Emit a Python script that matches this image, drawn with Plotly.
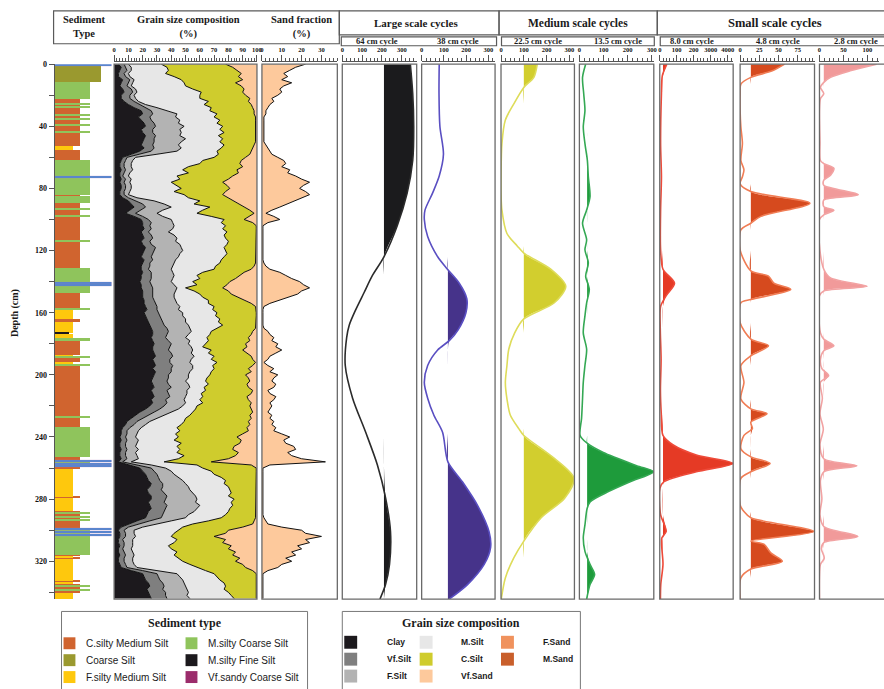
import numpy as np
import plotly.graph_objects as go

W, H = 884, 689
SERIF = "Liberation Serif, Times New Roman, DejaVu Serif, serif"
SANS = "Liberation Sans, Arial, DejaVu Sans, sans-serif"


def px_x(v):
    return v / W


def px_y(v):
    return 1 - v / H


# ---------------- sediment log ----------------
sediment_types = ["C.silty Medium Silt", "Coarse Silt", "F.silty Medium Silt",
                  "M.silty Coarse Silt", "M.silty Fine Silt", "Vf.sandy Coarse Silt"]
sediment_codes = ["CM", "CS", "FM", "MC", "MF", "VC"]
sediment_colors = ["#d0642f", "#9a992f", "#fec80d", "#8fc45c", "#1c191d", "#9b2c6b"]

layer_top = [0.6, 11.7, 22.4, 25.2, 26.0, 27.3, 28.1, 32.6, 33.4, 34.8, 35.6, 39.2, 40.0, 43.3,
             44.1, 53.0, 55.2, 62.0, 84.0, 85.2, 89.6, 93.0, 94.0, 97.6, 98.6, 113.6, 114.5,
             131.2, 147.4, 157.6, 158.5, 164.0, 166.0, 173.0, 173.8, 177.0, 178.0, 187.5, 188.2,
             189.0, 191.5, 193.5, 194.3, 226.8, 227.6, 233.6, 253.0, 255.0, 259.5, 261.0, 278.6,
             279.6, 288.0, 289.0, 289.8, 291.0, 291.8, 293.0, 293.8, 298.5, 316.0, 317.0, 317.8,
             318.8, 332.5, 333.5, 335.0, 336.0, 336.8, 338.0, 338.8, 340.5]
layer_bottom = [11.7, 22.4, 25.2, 26.0, 27.3, 28.1, 32.6, 33.4, 34.8, 35.6, 39.2, 40.0, 43.3, 44.1,
                53.0, 55.2, 62.0, 84.0, 85.2, 89.6, 93.0, 94.0, 97.6, 98.6, 113.6, 114.5, 131.2,
                147.4, 157.6, 158.5, 164.0, 166.0, 173.0, 173.8, 177.0, 178.0, 187.5, 188.2, 189.0,
                191.5, 193.5, 194.3, 226.8, 227.6, 233.6, 253.0, 255.0, 259.5, 261.0, 278.6, 279.6,
                288.0, 289.0, 289.8, 291.0, 291.8, 293.0, 293.8, 298.5, 316.0, 317.0, 317.8, 318.8,
                332.5, 333.5, 335.0, 336.0, 336.8, 338.0, 338.8, 340.5, 344.3]
layer_code = ["CS", "MC", "CM", "MC", "CM", "MC", "CM", "MC", "CM", "MC", "CM", "MC", "CM", "MC",
              "CM", "FM", "CM", "MC", "CM", "MC", "CM", "MC", "CM", "MC", "CM", "MC", "CM",
              "MC", "CM", "MC", "FM", "CM", "FM", "MF", "FM", "MC", "CM", "FM", "MC",
              "CM", "FM", "MC", "CM", "MC", "CM", "MC", "CM", "MC", "CM", "FM", "CM",
              "FM", "CM", "MC", "CM", "MC", "CM", "MC", "CM", "MC", "CM", "FM", "CM",
              "FM", "CM", "FM", "CM", "MC", "CM", "MC", "CM", "FM"]
horizon_depth = [0.5, 73.0, 141.0, 142.3, 255.6, 257.2, 258.8, 299.4, 301.4, 303.4]

# ---------------- grain size composition (cumulative %, upper bound of each class) ----------------
grain_classes = ["Clay", "Vf.Silt", "F.Silt", "M.Silt", "C.Silt", "Vf.Sand", "F.Sand", "M.Sand"]
grain_colors = ["#1c191d", "#7f7f7f", "#b3b3b3", "#e7e7e7", "#cfcc2d", "#fdc99c", "#f0925d", "#c95f2b"]

depth = list(range(0, 345, 2))
clay_top = [3, 5, 4, 3, 3, 6, 5, 4, 6, 7,
            5, 5, 7, 10, 14, 19, 20, 17, 19, 21,
            22, 19, 20, 22, 21, 20, 19, 21, 18, 12,
            6, 5, 4, 4, 5, 4, 4, 5, 4, 5,
            5, 4, 4, 6, 10, 12, 14, 11, 8, 14,
            19, 20, 20, 21, 19, 20, 21, 19, 20, 22,
            21, 20, 19, 21, 20, 19, 19, 20, 19, 19,
            18, 19, 19, 20, 20, 20, 21, 21, 22, 23,
            21, 22, 23, 24, 25, 26, 27, 27, 26, 27,
            28, 27, 27, 28, 29, 27, 28, 29, 27, 29,
            28, 27, 26, 27, 28, 26, 27, 28, 26, 27,
            25, 22, 18, 15, 12, 9, 8, 6, 5, 5,
            4, 5, 4, 4, 5, 4, 4, 5, 3, 10,
            18, 20, 22, 23, 24, 26, 25, 23, 24, 26,
            26, 24, 25, 26, 24, 23, 22, 16, 10, 5,
            3, 4, 4, 3, 3, 4, 3, 3, 4, 3,
            3, 4, 5, 12, 20, 21, 22, 24, 25, 23,
            24, 25, 26]
vf_silt_top = [7, 8, 9, 7, 8, 11, 10, 9, 12, 13,
               11, 11, 14, 18, 22, 26, 27, 25, 26, 28,
               29, 27, 27, 29, 28, 28, 27, 28, 26, 18,
               9, 8, 7, 7, 8, 7, 6, 8, 7, 8,
               8, 7, 7, 10, 15, 20, 22, 18, 15, 20,
               24, 26, 25, 26, 24, 26, 27, 25, 26, 29,
               28, 27, 26, 27, 25, 25, 24, 26, 26, 26,
               25, 26, 27, 27, 27, 27, 28, 29, 30, 30,
               31, 32, 33, 34, 35, 37, 38, 37, 36, 38,
               40, 39, 38, 40, 41, 39, 39, 41, 40, 40,
               38, 38, 37, 38, 40, 37, 38, 39, 36, 37,
               35, 32, 28, 24, 20, 16, 14, 11, 9, 9,
               8, 9, 8, 8, 9, 8, 8, 9, 6, 16,
               26, 28, 30, 31, 32, 34, 34, 33, 35, 37,
               36, 35, 37, 36, 35, 34, 33, 25, 18, 10,
               7, 8, 8, 6, 7, 7, 6, 7, 8, 7,
               7, 8, 9, 20, 30, 31, 32, 34, 35, 34,
               36, 36, 37]
f_silt_top = [10, 12, 12, 10, 11, 14, 13, 12, 15, 16,
              14, 15, 17, 22, 30, 38, 44, 43, 46, 45,
              49, 46, 47, 46, 50, 47, 45, 47, 44, 30,
              15, 13, 12, 12, 13, 11, 10, 12, 11, 12,
              12, 11, 10, 16, 28, 35, 40, 34, 30, 34,
              40, 41, 42, 41, 38, 42, 44, 43, 46, 47,
              48, 46, 45, 43, 42, 41, 40, 41, 42, 41,
              40, 42, 44, 43, 42, 42, 43, 44, 46, 45,
              48, 48, 50, 50, 52, 53, 54, 52, 50, 53,
              52, 54, 55, 54, 56, 54, 53, 55, 55, 53,
              52, 52, 50, 52, 53, 51, 51, 50, 49, 50,
              48, 45, 40, 35, 30, 25, 22, 19, 17, 16,
              15, 17, 16, 15, 17, 15, 16, 17, 12, 26,
              36, 40, 42, 45, 48, 50, 52, 53, 55, 57,
              58, 57, 60, 58, 56, 52, 50, 40, 30, 20,
              14, 14, 15, 13, 13, 13, 12, 13, 14, 13,
              13, 14, 16, 30, 44, 46, 48, 49, 50, 51,
              52, 51, 53]
m_silt_top = [33, 37, 38, 36, 42, 47, 49, 50, 55, 61,
              60, 60, 66, 63, 68, 67, 72, 70, 74, 72,
              76, 74, 77, 73, 76, 74, 77, 75, 72, 73,
              70, 62, 60, 52, 48, 52, 44, 46, 40, 44,
              47, 42, 49, 52, 60, 56, 67, 62, 58, 68,
              77, 75, 78, 76, 79, 77, 78, 80, 79, 77,
              78, 79, 77, 75, 74, 71, 70, 62, 58, 60,
              55, 58, 50, 56, 60, 62, 66, 66, 70, 69,
              72, 71, 74, 73, 76, 72, 68, 67, 65, 66,
              64, 62, 68, 66, 70, 68, 72, 69, 70, 68,
              67, 65, 64, 66, 63, 64, 61, 62, 60, 62,
              58, 57, 55, 53, 50, 49, 47, 44, 46, 43,
              45, 42, 47, 44, 46, 44, 49, 45, 35, 58,
              62, 68, 70, 75, 78, 77, 80, 81, 82, 80,
              84, 82, 83, 81, 80, 78, 75, 66, 55, 48,
              45, 42, 40, 44, 42, 38, 40, 44, 42, 45,
              48, 53, 58, 64, 70, 72, 74, 77, 78, 77,
              80, 82, 84]
# sand fraction (%), also the Vf.Sand share of the composition
sand = [22, 17, 14, 11, 13, 10, 15, 11, 9, 10,
        8, 5, 6, 4, 3, 2, 2, 1, 1, 1,
        1, 1, 1, 1, 1, 1, 2, 3, 4, 5,
        8, 11, 12, 10, 14, 13, 17, 20, 24, 21,
        19, 22, 24, 20, 17, 13, 9, 5, 2, 6,
        9, 3, 0.5, 0.5, 0.5, 0.5, 0.5, 0.5, 0.5, 0.5,
        0.5, 0.5, 0.5, 0.5, 1, 2, 4, 9, 12, 15,
        19, 21, 24, 20, 18, 13, 8, 4, 1, 0.5,
        0.5, 0.5, 0.5, 0.5, 0.5, 1, 3, 4, 6, 5,
        8, 7, 10, 7, 4, 3, 1, 3, 6, 4,
        8, 6, 5, 7, 6, 3, 4, 7, 6, 4,
        5, 4, 3, 5, 4, 6, 5, 7, 6, 10,
        14, 11, 12, 16, 17, 13, 15, 20, 32, 4,
        0.5, 0.5, 0.5, 0.5, 0.5, 0.5, 0.5, 0.5, 0.5, 0.5,
        0.5, 0.5, 0.5, 0.5, 0.5, 0.5, 1, 2, 3, 10,
        20, 22, 30, 22, 24, 18, 20, 15, 17, 12,
        15, 10, 8, 3, 0.5, 0.5, 0.5, 0.5, 0.5, 0.5,
        0.5, 0.5, 0.5]

# ---------------- spectral cycles ----------------
c64_depth = [0, 19, 40, 62, 83, 104, 124, 136, 147, 158, 168, 176, 194, 215, 237, 258, 279, 301,
             322, 335, 344.3]
c64_value = [343, 355, 360, 355, 327, 277, 210, 152, 110, 68, 35, 22, 15, 52, 118, 177, 218, 243,
             238, 218, 190]

c38_depth = [0, 19, 40, 58, 72, 83, 94, 100, 111, 124, 132, 141, 151, 160, 171, 178, 184, 194,
             205, 215, 226, 237, 256, 269, 284, 301, 311, 322, 335, 344.3]
c38_value = [79, 78, 82, 98, 79, 49, 15, 12, 27, 72, 116, 169, 203, 199, 164, 124, 72, 27,
             12, 27, 55, 94, 118, 184, 251, 303, 310, 281, 206, 124]

c22_depth = [0, 8.5, 15, 25.6, 36, 51, 72, 83, 94, 109, 117, 121.6, 132, 143, 153.6, 164, 173,
             183.5, 194, 205, 215.5, 226, 234.6, 239, 253.8, 266.6, 279.5, 292, 307, 317.8,
             330.7, 344.3]
c22_value = [159, 144, 100, 56, 19, 4, 0, 0, 4, 26, 71, 100, 218, 284, 234, 100, 60,
             34, 26, 19, 26, 41, 78, 100, 234, 320, 279, 176, 100, 56, 19, 1]

c13_depth = [0, 8.5, 19.2, 29.9, 40.5, 51.2, 61.9, 72.5, 85.3, 93.9, 102.4, 113, 119.5, 128,
             136.5, 145, 153.6, 162, 173, 183.5, 194, 205, 215.5, 228, 239, 244, 250, 258.5,
             262.4, 268.8, 275, 281.6, 286, 296.6, 305, 313.6, 322, 328.5, 335, 344.3]
c13_value = [26, 13, 18, 23, 16, 23, 33, 37, 44, 30, 13, 30, 23, 37, 26, 41, 30, 23, 16, 30,
             23, 16, 13, 9, 3, 32, 99, 237, 307, 210, 122, 45, 32, 23, 16, 23, 44, 63, 44, 30]

c8_depth = [0, 7.5, 19, 51, 72.5, 94, 119.5, 132, 141, 149, 156, 170, 190, 210, 225, 239, 245,
            251.6, 257, 262.4, 268.8, 273, 290, 300.8, 305, 322, 335, 344.3]
c8_value = [42, 15, 10, 5, 10, 5, 5, 19, 87, 38, 5, 3, 8, 4, 9, 19, 77,
            215, 430, 215, 25, 1, 5, 38, 12, 19, 6, 4]

c48_depth = [0, 4.3, 8.5, 12.8, 19, 30, 40.5, 51, 62, 68, 72.5, 77, 82, 89.6, 98, 102.4, 106.7,
             119.5, 133, 136.5, 141, 145, 151.5, 153.6, 166.4, 177, 181.3, 187.7, 194, 204.8,
             215.5, 221.9, 225, 230.4, 234.6, 239, 247.5, 252.8, 257, 262.4, 266.6, 283.7, 288,
             292, 300.8, 307, 309, 314.6, 320, 325, 330.7, 344.3]
c48_value = [58, 42, 14, 1, 0, 0, 1, 3, 1, 5, 3, 0, 14, 91, 27, 14, 1,
             0, 14, 37, 44, 66, 14, 1, 0, 14, 37, 14, 1, 5,
             1, 14, 35, 14, 16, 5, 1, 14, 39, 14, 1, 0, 5,
             14, 96, 14, 31, 40, 55, 14, 1, 0]

c28_depth = [0, 4.3, 8.5, 11.7, 14.9, 19, 22.2, 30, 50, 62, 64, 67, 71.5, 74.7, 78, 84, 87.5,
             91.7, 94, 97, 100, 120, 132, 137.6, 143, 146, 149, 173, 177, 181.3, 184.5, 190,
             196, 200.5, 204.8, 215, 225, 235, 245, 254, 258.5, 262.4, 268, 280, 290, 297.6,
             304, 308, 312, 318, 322, 330, 344.3]
c28_value = [119, 64, 23, 9, 2, 9, 2, 0, 1, 2, 9, 30, 23, 9, 9, 81, 9,
             9, 30, 9, 0, 1, 9, 23, 99, 9, 0, 2, 9, 30, 9, 2,
             5, 19, 2, 6, 1, 8, 1, 9, 78, 9, 2, 5, 1, 9,
             80, 9, 4, 10, 2, 0, 0]

# ---------------- figure ----------------
fig = go.Figure()

# sediment log bars
code_to_name = dict(zip(sediment_codes, sediment_types))
log_width = {"CM": 25, "CS": 46, "FM": 18, "MC": 35, "MF": 14, "VC": 57}
for code, color in zip(sediment_codes, sediment_colors):
    idx = [i for i, c in enumerate(layer_code) if c == code]
    if not idx:
        continue
    fig.add_trace(go.Bar(
        orientation="h", xaxis="x", yaxis="y", base=0,
        y=[(layer_top[i] + layer_bottom[i]) / 2 for i in idx],
        width=[layer_bottom[i] - layer_top[i] for i in idx],
        x=[log_width[code]] * len(idx),
        marker=dict(color=color, line=dict(width=0)),
        name=code_to_name[code], showlegend=False, hoverinfo="skip"))

# marker horizons across the log
fig.add_trace(go.Bar(
    orientation="h", xaxis="x", yaxis="y", base=0,
    y=horizon_depth, width=[1.2] * len(horizon_depth), x=[log_width["VC"]] * len(horizon_depth),
    marker=dict(color="#4f86d0", line=dict(color="#b37cc0", width=0.25)),
    showlegend=False, hoverinfo="skip"))

# stacked grain-size composition, one band per class between consecutive bounds
bounds = [np.array(b, dtype=float) for b in
          (clay_top, vf_silt_top, f_silt_top, m_silt_top)]
bounds.append(100.0 - np.array(sand, dtype=float))
bounds.append(np.full(len(depth), 100.0))
lower = np.zeros(len(depth))
for name, upper, color in zip(grain_classes[:6], bounds, grain_colors[:6]):
    fig.add_trace(go.Scatter(
        x=upper - lower, y=depth, xaxis="x2", yaxis="y", stackgroup="grain", orientation="h",
        mode="lines", fillcolor=color,
        line=dict(color="#111111", width=0 if name == "Vf.Sand" else 1),
        name=name, showlegend=False, hoverinfo="skip"))
    lower = upper

# sand fraction
fig.add_trace(go.Scatter(
    x=sand, y=depth, xaxis="x3", yaxis="y", mode="lines", fill="tozerox",
    fillcolor="#fdc99c", line=dict(color="#111111", width=1), showlegend=False, hoverinfo="skip"))

cycles = [
    dict(axis="x4", d=c64_depth, v=c64_value, base=210, fill="#1b1b1d", line="#2b2b2b"),
    dict(axis="x5", d=c38_depth, v=c38_value, base=118, fill="#46338a", line="#5a4fc2"),
    dict(axis="x6", d=c22_depth, v=c22_value, base=100, fill="#d2ce2e", line="#dedc5a"),
    dict(axis="x7", d=c13_depth, v=c13_value, base=32, fill="#1e9b3b", line="#34a853"),
    dict(axis="x8", d=c8_depth, v=c8_value, base=19, fill="#e53a25", line="#ee4b3a"),
    dict(axis="x9", d=c48_depth, v=c48_value, base=14, fill="#d64a1e", line="#f07d55"),
    dict(axis="x10", d=c28_depth, v=c28_value, base=9, fill="#f19a9a", line="#f2a3a3"),
]
for cy in cycles:
    n = len(cy["d"])
    fig.add_trace(go.Scatter(
        x=[cy["base"]] * n, y=cy["d"], xaxis=cy["axis"], yaxis="y", mode="lines",
        line=dict(width=0), showlegend=False, hoverinfo="skip"))
    fig.add_trace(go.Scatter(
        x=np.maximum(np.array(cy["v"], dtype=float), cy["base"]), y=cy["d"],
        xaxis=cy["axis"], yaxis="y", mode="lines", fill="tonextx", fillcolor=cy["fill"],
        line=dict(width=0, shape="spline", smoothing=0.8), showlegend=False, hoverinfo="skip"))
    fig.add_trace(go.Scatter(
        x=cy["v"], y=cy["d"], xaxis=cy["axis"], yaxis="y", mode="lines",
        line=dict(color=cy["line"], width=1.6, shape="spline", smoothing=0.8),
        showlegend=False, hoverinfo="skip"))

# ---------------- axes ----------------
PANEL_TOP, PANEL_BOTTOM = 60.5, 598.5
RULER_Y = 57


def ruler_axis(left, right, rng, majors, minors, labels=None):
    return dict(
        domain=[px_x(left), px_x(right)], range=rng, side="top", anchor="free",
        position=px_y(RULER_Y), showline=True, linecolor="#555555", linewidth=1,
        ticks="outside", ticklen=6, tickwidth=1, tickcolor="#555555",
        tickmode="array", tickvals=majors, ticktext=labels or [str(v) for v in majors],
        minor=dict(tickmode="array", tickvals=minors, ticks="outside", ticklen=3,
                   tickcolor="#555555", tickwidth=0.8),
        tickfont=dict(family=SERIF, size=6.5, color="#111111", weight="bold"),
        ticklabelstandoff=0, showgrid=False, zeroline=False, fixedrange=True)


panel_px = {
    "x2": (113, 257), "x3": (262, 338), "x4": (343, 418), "x5": (423, 497),
    "x6": (503, 577), "x7": (582, 657), "x8": (663, 737), "x9": (744, 819), "x10": (824, 884),
}

layout_axes = dict(
    xaxis=dict(domain=[px_x(53), px_x(112)], range=[0, 59], visible=False, fixedrange=True),
    yaxis=dict(domain=[px_y(PANEL_BOTTOM), px_y(PANEL_TOP)], range=[344.3, 0], anchor="x",
               showline=True, linecolor="#555555", linewidth=1, ticks="outside", ticklen=5,
               tickcolor="#555555", tickmode="array", tickvals=list(range(0, 321, 40)),
               minor=dict(tickmode="array", tickvals=list(range(20, 341, 40)), ticks="outside",
                          ticklen=5, tickcolor="#555555"),
               tickfont=dict(family=SERIF, size=8, color="#111111", weight="bold"),
               showgrid=False, zeroline=False, fixedrange=True),
    xaxis2=ruler_axis(113, 257, [0, 100], list(range(0, 101, 10)), list(range(0, 101, 2))),
    xaxis3=ruler_axis(262, 338, [0, 38], [0, 10, 20, 30], list(range(0, 39, 2))),
    xaxis4=ruler_axis(343, 418, [0, 375], [0, 100, 200, 300], list(range(0, 376, 20))),
    xaxis5=ruler_axis(423, 497, [0, 330], [0, 100, 200, 300], list(range(0, 331, 20))),
    xaxis6=ruler_axis(503, 577, [0, 322], [0, 100, 200, 300], list(range(0, 322, 20))),
    xaxis7=ruler_axis(582, 657, [0, 308], [0, 100, 200, 300], list(range(0, 309, 20))),
    xaxis8=ruler_axis(663, 737, [0, 432], [0, 100, 200, 300, 400], list(range(0, 433, 20)),
                      labels=["0", "100", "200", "3000", "4000"]),
    xaxis9=ruler_axis(744, 819, [0, 97], [0, 25, 50, 75], list(range(0, 98, 5))),
    xaxis10=ruler_axis(824, 884, [0, 124], [0, 50, 100], list(range(0, 125, 10))),
)

shapes = []
BORDER = dict(color="#6a6a6a", width=1.3)
for ax, (l, r) in panel_px.items():
    r_draw = 900 if ax == "x10" else r
    shapes.append(dict(type="rect", xref="paper", yref="paper", x0=px_x(l), x1=px_x(r_draw),
                       y0=px_y(PANEL_BOTTOM), y1=px_y(PANEL_TOP), line=BORDER,
                       fillcolor="rgba(0,0,0,0)", layer="above"))

HEAD = dict(color="#5a5a5a", width=1.2)


def box(x0, y0, x1, y1, line=HEAD):
    shapes.append(dict(type="rect", xref="paper", yref="paper", x0=px_x(x0), x1=px_x(x1),
                       y0=px_y(y1), y1=px_y(y0), line=line, fillcolor="rgba(0,0,0,0)"))


box(52, 7, 340, 40)
box(340, 7, 501, 31)
box(501, 7, 660.5, 31)
box(660.5, 7, 900, 31)
box(342, 33, 498.5, 42)
box(503.5, 33, 657.5, 42)
box(663.5, 33, 900, 42)

annotations = []


def label(text, x, y, size, family=SERIF, bold=True, anchor="center", angle=0, color="#1a1a1a"):
    annotations.append(dict(
        text="<b>%s</b>" % text if bold else text, x=px_x(x), y=px_y(y),
        xref="paper", yref="paper", showarrow=False,
        xanchor=anchor, yanchor="middle", textangle=angle,
        font=dict(family=family, size=size, color=color)))


label("Sediment<br>Type", 83, 23, 10.5)
label("Grain size composition<br>(%)", 188, 23, 10.5)
label("Sand fraction<br>(%)", 302, 23, 10.5)
label("Large scale cycles", 417, 19.5, 11)
label("Medium scale cycles", 581, 19.5, 11.5)
label("Small scale cycles", 779, 19.5, 12.5)
for txt, xc in [("64 cm cycle", 378), ("38 cm cycle", 460), ("22.5 cm cycle", 540),
                ("13.5 cm cycle", 621), ("8.0 cm cycle", 696), ("4.8 cm cycle", 782),
                ("2.8 cm cycle", 861)]:
    label(txt, xc, 37.5, 8.5)
label("Depth (cm)", 13, 311, 10, angle=-90)

# legend: sediment type
box(60, 611, 308, 700, line=dict(color="#777777", width=1))
label("Sediment type", 184, 623, 12)
sed_cols = [(62, 83), (185, 206)]
rows = [643, 660, 677]
for i, (name, color) in enumerate(zip(sediment_types, sediment_colors)):
    sx, tx = sed_cols[i // 3]
    ry = rows[i % 3]
    shapes.append(dict(type="rect", xref="paper", yref="paper", x0=px_x(sx), x1=px_x(sx + 12),
                       y0=px_y(ry + 6), y1=px_y(ry - 6), fillcolor=color, line=dict(width=0)))
    label(name, tx, ry, 10, family=SANS, bold=False, anchor="left")

# legend: grain size composition
box(343, 611, 583, 700, line=dict(color="#777777", width=1))
label("Grain size composition", 463, 623, 12)
grain_cols = [(345, 386), (421, 461), (503, 543)]
rows_g = [642, 659, 676]
for i, (name, color) in enumerate(zip(grain_classes, grain_colors)):
    sx, tx = grain_cols[i // 3]
    ry = rows_g[i % 3]
    shapes.append(dict(type="rect", xref="paper", yref="paper", x0=px_x(sx), x1=px_x(sx + 13),
                       y0=px_y(ry + 6.5), y1=px_y(ry - 6.5), fillcolor=color, line=dict(width=0)))
    label(name, tx, ry, 8.5, family=SANS, bold=True, anchor="left")

fig.update_layout(
    width=W, height=H, margin=dict(l=0, r=0, t=0, b=0), autosize=False,
    paper_bgcolor="white", plot_bgcolor="white", barmode="overlay", bargap=0,
    showlegend=False, shapes=shapes, annotations=annotations, **layout_axes)

fig.write_html("out.html")
